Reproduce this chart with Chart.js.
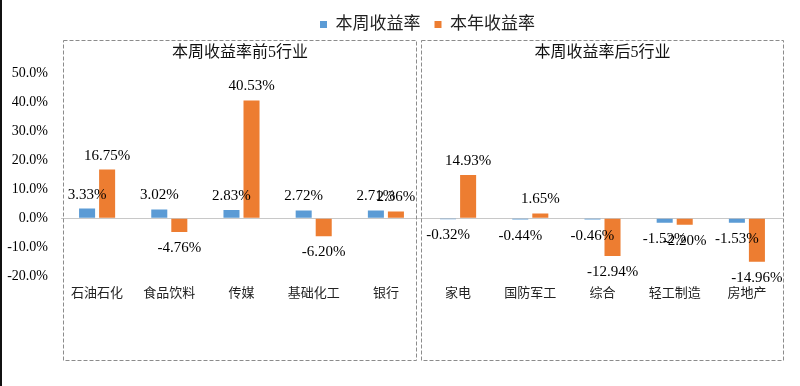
<!DOCTYPE html>
<html>
<head>
<meta charset="utf-8">
<script src="https://cdn.jsdelivr.net/npm/chart.js@4/dist/chart.umd.min.js"></script>
<style>
  body { margin: 0; background: #fff; }
  #wrap { width: 800px; height: 386px; position: relative; border-left: 2px solid #111; box-sizing: border-box; }
</style>
</head>
<body>
<div id="wrap"><canvas id="grafico"></canvas></div>
<script>
const categorias = ['石油石化', '食品饮料', '传媒', '基础化工', '银行', '家电', '国防军工', '综合', '轻工制造', '房地产'];
const semanal = [3.33, 3.02, 2.83, 2.72, 2.71, -0.32, -0.44, -0.46, -1.52, -1.53];
const anual = [16.75, -4.76, 40.53, -6.20, 2.36, 14.93, 1.65, -12.94, -2.20, -14.96];
const titulosGrupo = ['本周收益率前5行业', '本周收益率后5行业'];

const fuente = "'Liberation Serif', 'Noto Sans CJK SC', serif";

// espacio extra bajo la leyenda y leyenda un poco a la derecha
const ajusteLeyenda = {
  id: 'ajusteLeyenda',
  beforeInit(chart) {
    const fit = chart.legend.fit;
    chart.legend.fit = function () {
      fit.bind(chart.legend)();
      this.height += 30;
    };
  },
  afterUpdate(chart) {
    chart.legend.left += 35;
    chart.legend.right += 35;
    chart.legend.adjustHitBoxes();
  }
};

// cajas punteadas y titulos de grupo
const cajas = {
  id: 'cajas',
  afterDraw(chart) {
    const ctx = chart.ctx;
    const area = chart.chartArea;
    const x = chart.scales.x;
    const mitad = (x.getPixelForValue(4) + x.getPixelForValue(5)) / 2;
    const top = 40.5, bottom = 360.5;
    const rects = [[area.left + 1.5, mitad - 6.5], [mitad - 1.5, area.right - 0.5]];
    ctx.save();
    ctx.strokeStyle = '#8c8c8c';
    ctx.lineWidth = 1;
    ctx.setLineDash([4, 2]);
    rects.forEach(function (r, i) {
      ctx.strokeRect(Math.round(r[0]) + 0.5, top, Math.round(r[1] - r[0]), bottom - top);
      ctx.fillStyle = '#111';
      ctx.font = '16px ' + fuente;
      ctx.textAlign = 'center';
      ctx.textBaseline = 'middle';
      ctx.fillText(titulosGrupo[i], (r[0] + r[1]) / 2 + 1, 53);
    });
    ctx.restore();
  }
};

// etiquetas de valores
const etiquetas = {
  id: 'etiquetas',
  afterDatasetsDraw(chart) {
    const ctx = chart.ctx;
    ctx.save();
    ctx.font = '15px ' + fuente;
    ctx.fillStyle = '#000';
    ctx.textAlign = 'center';
    ctx.textBaseline = 'middle';
    chart.data.datasets.forEach(function (ds, i) {
      chart.getDatasetMeta(i).data.forEach(function (bar, j) {
        const v = ds.data[j];
        const y = v >= 0 ? bar.y - 14 : bar.y + 16;
        ctx.fillText(v.toFixed(2) + '%', bar.x, y);
      });
    });
    ctx.restore();
  }
};

const ctxBarras = document.getElementById('grafico').getContext('2d');
const grafico = new Chart(ctxBarras, {
  type: 'bar',
  data: {
    labels: categorias,
    datasets: [{
      label: '本周收益率',
      data: semanal,
      backgroundColor: '#5B9BD5'
    }, {
      label: '本年收益率',
      data: anual,
      backgroundColor: '#ED7D31'
    }]
  },
  options: {
    responsive: true,
    maintainAspectRatio: false,
    animation: false,
    categoryPercentage: 0.555,
    barPercentage: 0.8,
    layout: { padding: { top: 2, right: 17, bottom: 84, left: 0 } },
    plugins: {
      legend: {
        position: 'top',
        labels: {
          boxWidth: 7,
          boxHeight: 7,
          padding: 14,
          color: '#222',
          font: { size: 17, family: fuente }
        }
      },
      tooltip: { enabled: false }
    },
    scales: {
      x: {
        grid: { display: false },
        border: { display: false },
        ticks: {
          padding: 1,
          color: '#222',
          font: { size: 13, family: fuente }
        }
      },
      y: {
        min: -20,
        max: 50,
        afterFit: function (scale) { scale.width = 59; },
        border: { display: false },
        grid: {
          drawTicks: false,
          color: function (c) { return c.tick && c.tick.value === 0 ? '#c8c8c8' : 'rgba(0,0,0,0)'; }
        },
        ticks: {
          stepSize: 10,
          padding: 13,
          color: '#000',
          font: { size: 14, family: fuente },
          callback: function (value) { return value.toFixed(1) + '%'; }
        }
      }
    }
  },
  plugins: [ajusteLeyenda, cajas, etiquetas]
});
</script>
</body>
</html>
